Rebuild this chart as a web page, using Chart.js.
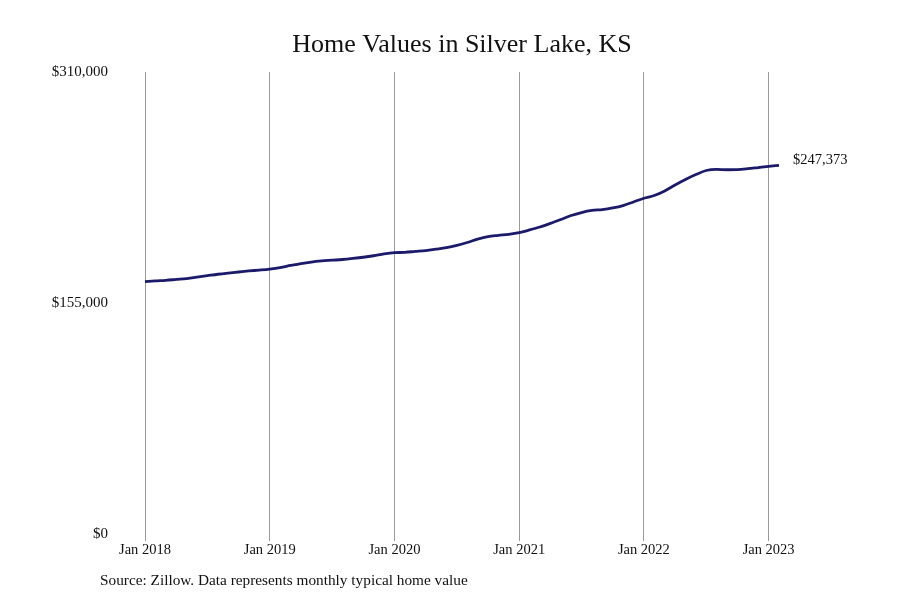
<!DOCTYPE html>
<html>
<head>
<meta charset="utf-8">
<script src="https://cdn.jsdelivr.net/npm/chart.js@4"></script>
<style>
html,body{margin:0;padding:0;background:#fff;}
#wrap{width:900px;height:600px;position:relative;}
</style>
</head>
<body>
<div id="wrap"><canvas id="c" width="900" height="600"></canvas></div>
<script>
const TITLE = "Home Values in Silver Lake, KS";
const SOURCE = "Source: Zillow. Data represents monthly typical home value";
const years = ["2018","2019","2020","2021","2022","2023"];
const monthNames = ["Jan","Feb","Mar","Apr","May","Jun","Jul","Aug","Sep","Oct","Nov","Dec"];
const values2018 = [169300,169800,170200,170800,171400,172300,173300,174300,175100,175800,176500,177100];
const values2019 = [177800,178800,180200,181500,182500,183200,183700,184200,184900,185700,186700,187900];
const values2020 = [188750,189000,189600,190200,191100,192100,193600,195600,197900,199600,200400,201100];
const values2021 = [202200,204000,206000,208400,211000,213700,215700,217100,217700,218800,220400,222800];
const values2022 = [225300,227100,230200,234200,237900,241200,243900,244600,244400,244500,245100,245900];
const values2023 = [246700,247373];
const yTicks = [0,155000,310000];

const labels = [];
[values2018,values2019,values2020,values2021,values2022,values2023].forEach((arr,i)=>{
  arr.forEach((v,m)=>labels.push(monthNames[m]+" "+years[i]));
});
const values = [].concat(values2018,values2019,values2020,values2021,values2022,values2023);

const SERIF = "'Liberation Serif', 'DejaVu Serif', serif";
const fmt = v => "$" + v.toLocaleString("en-US");

const extras = {
  id:"extras",
  afterDraw(chart){
    const ctx = chart.ctx, a = chart.chartArea;
    ctx.save();
    ctx.fillStyle = "#111";
    ctx.font = "26px " + SERIF;
    ctx.textAlign = "center";
    ctx.textBaseline = "alphabetic";
    ctx.fillText(TITLE, (a.left+a.right)/2, 52);
    ctx.font = "15.3px " + SERIF;
    ctx.textAlign = "left";
    ctx.fillText(SOURCE, 100, 585);
    const meta = chart.getDatasetMeta(0);
    const last = meta.data[meta.data.length-1];
    ctx.font = "14.5px " + SERIF;
    ctx.textBaseline = "middle";
    ctx.fillText(fmt(values[values.length-1]), last.x + 14, last.y - 5);
    ctx.restore();
  }
};

new Chart(document.getElementById("c"), {
  type:"line",
  data:{labels, datasets:[{
    data: values,
    borderColor:"#1c1a6b",
    borderWidth:2.8,
    pointRadius:0,
    tension:0.4,
    cubicInterpolationMode:"monotone",
    fill:false
  }]},
  options:{
    responsive:false,
    animation:false,
    devicePixelRatio:1,
    layout:{padding:{top:72,right:121,bottom:0,left:0}},
    plugins:{legend:{display:false},tooltip:{enabled:false},title:{display:false}},
    scales:{
      x:{
        type:"category",
        offset:false,
        grid:{display:true,color:"#9a9a9a",lineWidth:1,tickLength:7,drawOnChartArea:true},
        border:{display:false},
        ticks:{
          autoSkip:false,maxRotation:0,minRotation:0,padding:0,
          color:"#111",font:{family:SERIF,size:14.5},
          callback:function(val,idx){const l=labels[idx];return l.startsWith("Jan")?l:null;}
        },
        afterFit(s){s.height=66;}
      },
      y:{
        min:0,max:310000,
        afterBuildTicks(s){s.ticks=yTicks.map(v=>({value:v}));},
        grid:{display:false},
        border:{display:false},
        ticks:{padding:29,color:"#111",font:{family:SERIF,size:15},callback:v=>fmt(v)},
        afterFit(s){s.width=145;}
      }
    }
  },
  plugins:[extras]
});
</script>
</body>
</html>
